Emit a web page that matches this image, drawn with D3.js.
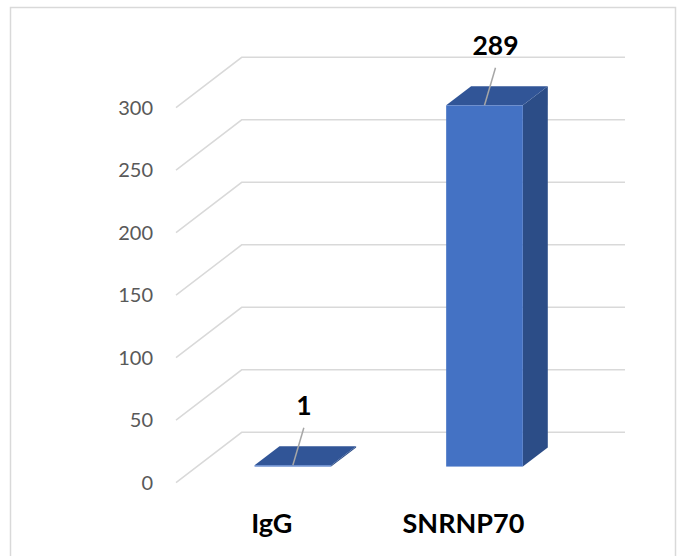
<!DOCTYPE html>
<html>
<head>
<meta charset="utf-8">
<script src="https://cdn.jsdelivr.net/npm/d3@7"></script>
<style>
    body { margin: 0; background: #fff; }
    svg { display: block; font-family: Lato, "Open Sans", sans-serif; }
</style>
</head>
<body>
<div id="chart"></div>
<script>
// data
const categories = ["IgG", "SNRNP70"];
const values = [1, 289];
const yTicks = [0, 50, 100, 150, 200, 250, 300];

const W = 683, H = 556;

// 3d look: full depth offset of the floor, and where the bars sit in it
const DX = 65.7, DY = -50.4;
const d0 = 0.32, d1 = 0.70;

const svg = d3.select("#chart").append("svg")
    .attr("width", W)
    .attr("height", H);

// chart border (bottom edge runs off the picture)
svg.append("rect")
    .attr("x", 10.5).attr("y", 7.5)
    .attr("width", 665).attr("height", 570)
    .attr("fill", "#fff")
    .attr("stroke", "#d9d9d9")
    .attr("stroke-width", 1.5);

// scales on the front plane
const x = d3.scaleBand()
    .domain(categories)
    .range([176, 625 - DX])
    .paddingInner(0.6)
    .paddingOuter(0.3);

const y = d3.scaleLinear()
    .domain([0, 300])
    .range([482.7, 107.7]);

// gridlines: diagonal on the left wall, then flat along the back
const grid = svg.append("g").attr("class", "grid");
grid.selectAll("path")
    .data(yTicks)
    .enter().append("path")
    .attr("d", d => {
        let p = d3.path();
        p.moveTo(176, y(d));
        p.lineTo(176 + DX, y(d) + DY);
        p.lineTo(625, y(d) + DY);
        return p.toString();
    })
    .attr("fill", "none")
    .attr("stroke", "#d9d9d9")
    .attr("stroke-width", 1.5);

// y tick labels
svg.append("g").selectAll("text")
    .data(yTicks)
    .enter().append("text")
    .attr("x", 153)
    .attr("y", d => y(d))
    .attr("dy", "0.36em")
    .attr("text-anchor", "end")
    .attr("fill", "#595959")
    .style("font-size", "20px")
    .text(d => d);

// bars
const bw = x.bandwidth();
const bars = svg.append("g").selectAll("g")
    .data(categories.map((c, i) => ({cat: c, val: values[i]})))
    .enter().append("g");

function poly(pts) {
    return "M" + pts.map(p => p.join(",")).join("L") + "Z";
}

// side face
bars.append("path")
    .attr("d", d => {
        let xr = x(d.cat) + bw;
        return poly([
            [xr + d0 * DX, y(d.val) + d0 * DY],
            [xr + d1 * DX, y(d.val) + d1 * DY],
            [xr + d1 * DX, y(0) + d1 * DY],
            [xr + d0 * DX, y(0) + d0 * DY]
        ]);
    })
    .attr("fill", "#2c4d87");

// top face
bars.append("path")
    .attr("d", d => {
        let xl = x(d.cat), xr = xl + bw, yt = y(d.val);
        return poly([
            [xl + d0 * DX, yt + d0 * DY],
            [xr + d0 * DX, yt + d0 * DY],
            [xr + d1 * DX, yt + d1 * DY],
            [xl + d1 * DX, yt + d1 * DY]
        ]);
    })
    .attr("fill", "#315597");

// front face
bars.append("rect")
    .attr("x", d => x(d.cat) + d0 * DX)
    .attr("y", d => y(d.val) + d0 * DY)
    .attr("width", bw)
    .attr("height", d => Math.max(1.2, y(0) - y(d.val)))
    .attr("fill", "#4472c4");

// data labels with leader lines
const labOff = 11;
bars.append("line")
    .attr("x1", d => x(d.cat) + bw / 2 + d0 * DX)
    .attr("y1", d => y(d.val) + d0 * DY)
    .attr("x2", d => x(d.cat) + bw / 2 + d0 * DX + labOff)
    .attr("y2", d => y(d.val) + d0 * DY - 37.5)
    .attr("stroke", "#a6a6a6")
    .attr("stroke-width", 1.5);

bars.append("text")
    .attr("x", d => x(d.cat) + bw / 2 + d0 * DX + labOff)
    .attr("y", d => y(d.val) + d0 * DY - 50.5)
    .attr("text-anchor", "middle")
    .attr("font-weight", "bold")
    .style("font-size", "26.5px")
    .attr("fill", "#000")
    .text(d => d.val);

// category labels
svg.append("g").selectAll("text")
    .data(categories)
    .enter().append("text")
    .attr("x", d => x(d) + bw / 2)
    .attr("y", 533)
    .attr("text-anchor", "middle")
    .attr("font-weight", "bold")
    .style("font-size", "27px")
    .attr("fill", "#000")
    .text(d => d);
</script>
</body>
</html>
